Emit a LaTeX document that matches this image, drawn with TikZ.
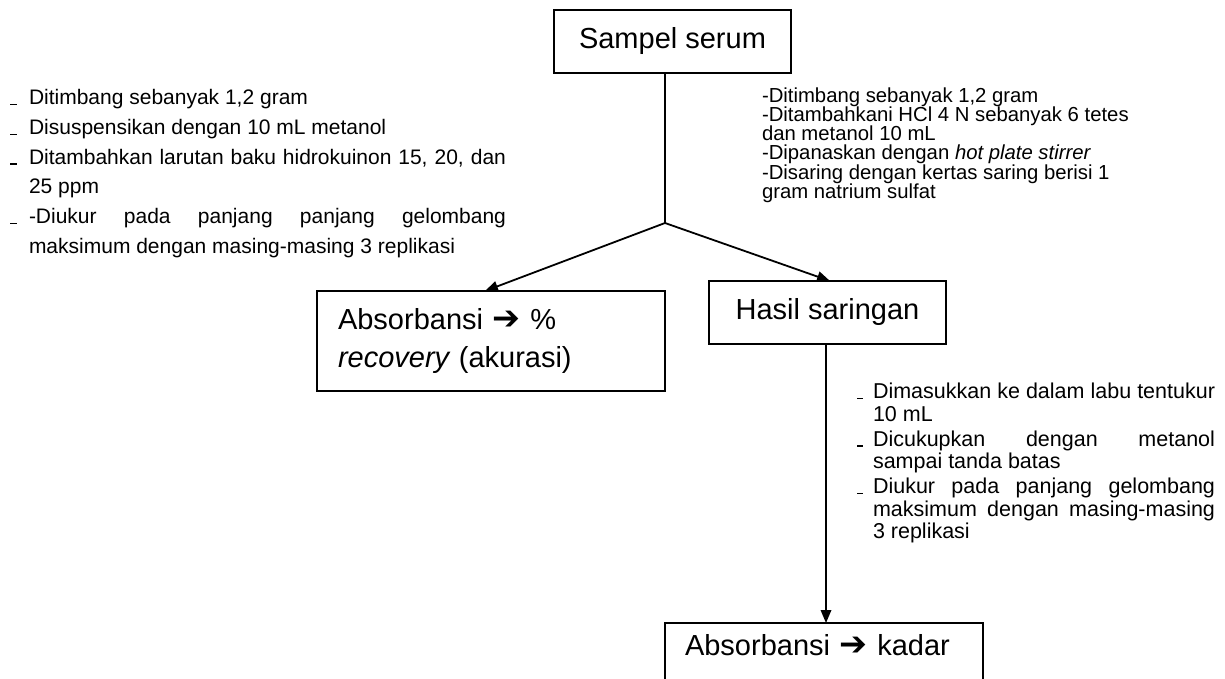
\documentclass[tikz,border=0pt]{standalone}
\usepackage{fontspec}
\setmainfont{Liberation Sans}
\newfontfamily\djv{DejaVu Sans}
\usetikzlibrary{arrows.meta,calc}
\newcommand{\lbul}{\llap{\rule[-0.6pt]{7pt}{1.2pt}\hspace{12pt}}}
\newcommand{\rbul}{\llap{\rule[-0.6pt]{6pt}{1.2pt}\hspace{10pt}}}
\newcommand{\jline}[2]{\makebox[#1][s]{#2}}
\newcommand{\bigarrow}{{\djv\bfseries\scalebox{1.15}{➔}}}
\begin{document}
\begin{tikzpicture}[x=1pt,y=-1pt,
  every node/.style={inner sep=0pt, outer sep=0pt},
  boxnode/.style={draw, line width=1.8pt, font=\fontsize{29}{39}\selectfont},
  conn/.style={line width=1.8pt},
  arr/.style={conn, -{Triangle[length=13pt,width=10.5pt]}},
  smalltxt/.style={align=left, anchor=north west},
]
\useasboundingbox (0,0) rectangle (1225,679);
\clip (0,0) rectangle (1225,679);

% main boxes
\node[boxnode, minimum width=237pt, minimum height=63pt] (top) at (672.5,41.5) {Sampel serum};
\node[boxnode, anchor=north west, minimum height=100pt, text width=306pt, align=left, inner xsep=21pt] (lbox) at (317,291) {Absorbansi \bigarrow\ \%\\ {\itshape recovery} (akurasi)};
\node[boxnode, minimum width=237pt, minimum height=63pt] (hasil) at (827.5,312.5) {Hasil saringan};
\node[boxnode, anchor=north west, text width=278pt, align=left, inner xsep=20pt, inner ysep=11pt, text height=21pt, text depth=45pt] (bot) at (665,623) {Absorbansi \bigarrow\ kadar};

% text blocks
\node[smalltxt, font={\fontsize{21}{29.8}\selectfont}] (ltext) at (29,89.2) {%
\lbul Ditimbang sebanyak 1,2 gram\\
\lbul Disuspensikan dengan 10 mL metanol\\
\lbul\jline{477pt}{Ditambahkan larutan baku hidrokuinon 15, 20, dan}\\
25 ppm\\
\lbul\jline{477pt}{-Diukur pada panjang panjang gelombang}\\
maksimum dengan masing-masing 3 replikasi};

\node[smalltxt, font={\fontsize{20.3}{19.2}\selectfont\lineskiplimit=-50pt}] (rtext) at (762,87.5) {%
-Ditimbang sebanyak 1,2 gram\\
-Ditambahkani HCl 4 N sebanyak 6 tetes\\
dan metanol 10 mL\\
-Dipanaskan dengan {\itshape hot plate stirrer}\\
-Disaring dengan kertas saring berisi 1\\
gram natrium sulfat};

\node[smalltxt, font={\fontsize{21.5}{22.5}\selectfont}] (btext) at (873,383) {%
\rbul\jline{342pt}{Dimasukkan ke dalam labu tentukur}\\
10 mL\\[2.5pt]
\rbul\jline{342pt}{Dicukupkan dengan metanol}\\
sampai tanda batas\\[2.5pt]
\rbul\jline{342pt}{Diukur pada panjang gelombang}\\
\jline{342pt}{maksimum dengan masing-masing}\\
3 replikasi};

% connectors
\coordinate (j) at (665,223);
\draw[conn] (j |- top.south) -- (j);
\draw[arr] (j) -- ([xshift=-6pt]lbox.north);
\draw[arr] (j) -- ([xshift=2.5pt]hasil.north);
\draw[arr] ([xshift=-1.5pt]hasil.south) -- ([xshift=-1.5pt]hasil.south |- bot.north);
\end{tikzpicture}
\end{document}
